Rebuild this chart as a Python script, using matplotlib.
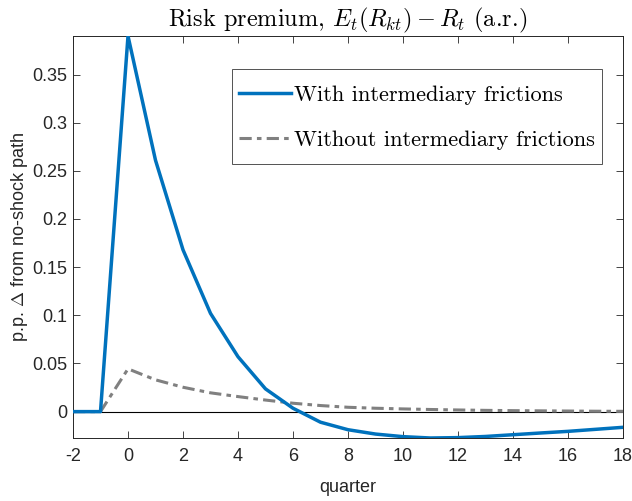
import numpy as np
import matplotlib
matplotlib.use("Agg")
import matplotlib.pyplot as plt
from matplotlib.legend_handler import HandlerLine2D

plt.rcParams["mathtext.fontset"] = "cm"
plt.rcParams["font.family"] = ["Liberation Sans Narrow", "Liberation Sans", "DejaVu Sans"]
plt.rcParams["axes.unicode_minus"] = False

quarters = list(range(-2, 19))
with_frictions = [0.0, 0.0, 0.390, 0.261, 0.168, 0.102, 0.057, 0.0236, 0.0035,
                  -0.011, -0.0188, -0.0233, -0.026, -0.0274, -0.027, -0.0258,
                  -0.024, -0.0222, -0.0205, -0.0184, -0.0163]
without_frictions = [0.0, 0.0, 0.0444, 0.033, 0.0253, 0.0195, 0.0156, 0.012,
                     0.0087, 0.0063, 0.0045, 0.0035, 0.0028, 0.0022, 0.0017,
                     0.0013, 0.001, 0.0008, 0.0006, 0.0004, 0.0003]
xticks = list(range(-2, 19, 2))
yticks = [0, 0.05, 0.1, 0.15, 0.2, 0.25, 0.3, 0.35]
ytick_labels = ["0", "0.05", "0.1", "0.15", "0.2", "0.25", "0.3", "0.35"]

axis_color = "#262626"
serif = "cmr10"

fig = plt.figure(figsize=(6.32, 5.01), dpi=100)
ax = fig.add_axes([73 / 632, 1 - 438 / 501, 550 / 632, 402 / 501])

ax.axhline(0, color="black", lw=0.8, zorder=1)
ax.plot(quarters, with_frictions, color="#0072BD", lw=2.5,
        label="With intermediary frictions", zorder=3)
ax.plot(quarters, without_frictions, color="#808080", lw=2.2, ls="-.",
        dashes=(4, 1.7, 1.5, 1.7),
        label="Without intermediary frictions", zorder=2)

ax.set_xlim(-2, 18)
ax.set_ylim(min(with_frictions), max(with_frictions))
ax.set_xticks(xticks)
ax.set_yticks(yticks)
ax.set_yticklabels(ytick_labels)

ax.tick_params(direction="in", length=5, width=0.6, colors=axis_color,
               labelsize=13, top=True, right=True, labelcolor=axis_color)
ax.tick_params(axis="x", pad=7)
ax.tick_params(axis="y", pad=4)
for s in ax.spines.values():
    s.set_color(axis_color)
    s.set_linewidth(0.7)

ax.set_xlabel("quarter", fontsize=13, color=axis_color, labelpad=10)
ax.set_ylabel(r"p.p. $\mathsf{\Delta}$ from no-shock path", fontsize=13,
              color=axis_color, labelpad=2)
ax.set_title(r"Risk premium, $E_t(R_{kt}) - R_t$ (a.r.)",
             fontsize=17.5, color="black", pad=7, family=serif)


def centre_handle(legend_line, orig_line):
    # copy the line style and lower the sample so it sits at the text's mid-height
    legend_line.update_from(orig_line)
    legend_line.set_ydata(np.asarray(legend_line.get_ydata()) - 3.3)


handler = HandlerLine2D(update_func=centre_handle)
leg = ax.legend(loc="upper left", bbox_to_anchor=((232 - 73) / 550, (438 - 69) / 402),
                prop={"family": serif, "size": 16.1},
                frameon=True, fancybox=False, edgecolor=axis_color,
                handlelength=2.3, handleheight=2.03, handletextpad=0.15,
                borderpad=0.33, labelspacing=0.45, borderaxespad=0,
                handler_map={matplotlib.lines.Line2D: handler})
leg.get_frame().set_linewidth(0.7)

fig.savefig("out.png", dpi=100)
